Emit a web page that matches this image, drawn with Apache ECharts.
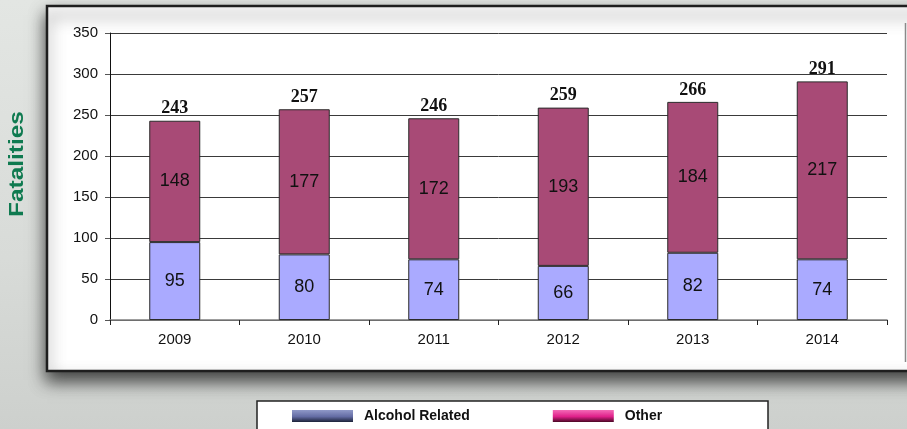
<!DOCTYPE html>
<html>
<head>
<meta charset="utf-8">
<script src="https://cdn.jsdelivr.net/npm/echarts@6/dist/echarts.min.js"></script>
<style>
  html, body { margin: 0; padding: 0; }
  #chart { width: 907px; height: 429px; }
</style>
</head>
<body>
<div id="chart"></div>
<script>
// Yearly fatalities, split into alcohol-related and other
const years = ['2009', '2010', '2011', '2012', '2013', '2014'];
const alcoholRelated = [95, 80, 74, 66, 82, 74];
const other = [148, 177, 172, 193, 184, 217];
const totals = [243, 257, 246, 259, 266, 291];
const yTicks = { min: 0, max: 350, interval: 50 };

const chart = echarts.init(document.getElementById('chart'), null, { renderer: 'canvas' });

const grad = (c1, c2, c3) => new echarts.graphic.LinearGradient(0, 0, 0, 1, [
  { offset: 0, color: c1 }, { offset: 0.55, color: c2 }, { offset: 1, color: c3 }
]);

chart.setOption({
  animation: false,
  backgroundColor: new echarts.graphic.LinearGradient(0, 0, 0, 1, [
    { offset: 0, color: '#e3e6e3' },
    { offset: 0.6, color: '#d8dbd8' },
    { offset: 1, color: '#cdd0cd' }
  ]),
  graphic: [
    {
      type: 'rect', z: -10, silent: true,
      shape: { x: 47, y: 6, width: 880, height: 365 },
      style: {
        fill: '#ffffff', stroke: '#1e1e1e', lineWidth: 2.5,
        shadowBlur: 16, shadowOffsetY: 9, shadowColor: 'rgba(0,0,0,0.7)'
      }
    },
    {
      type: 'line', z: -5, silent: true,
      shape: { x1: 905.5, y1: 23, x2: 905.5, y2: 362 },
      style: { stroke: '#8a8a8a', lineWidth: 1.5 }
    },
    {
      // axis title, slightly letter-stretched along its run
      type: 'text', silent: true,
      x: 17, y: 164, rotation: Math.PI / 2, scaleX: 1.22,
      style: {
        text: 'Fatalities', fill: '#0f7a50',
        font: 'bold 20px Arial, "Liberation Sans", sans-serif',
        align: 'center', verticalAlign: 'middle'
      }
    },
    {
      type: 'rect', z: -5, silent: true,
      shape: { x: 257, y: 401, width: 511, height: 40 },
      style: { fill: '#ffffff', stroke: '#222222', lineWidth: 1.5 }
    }
  ],
  legend: {
    left: 292, top: 409, padding: 0,
    itemWidth: 61, itemHeight: 12, itemGap: 83,
    icon: 'rect',
    textStyle: {
      color: '#111', fontWeight: 'bold', fontSize: 14,
      fontFamily: 'Arial, "Liberation Sans", sans-serif',
      padding: [0, 0, 0, 6]
    },
    data: [
      { name: 'Alcohol Related', itemStyle: { color: grad('#9099c8', '#646ca4', '#1c2238'), borderWidth: 0 } },
      { name: 'Other', itemStyle: { color: grad('#f46ab6', '#e0208a', '#4a0824'), borderWidth: 0 } }
    ]
  },
  grid: { left: 110, right: 20, top: 33, bottom: 109 },
  xAxis: {
    type: 'category',
    data: years,
    axisLine: { lineStyle: { color: '#808080', width: 1.5 } },
    axisTick: { show: true, length: 5, lineStyle: { color: '#222' } },
    axisLabel: {
      color: '#111', fontSize: 15, margin: 12,
      fontFamily: 'Arial, "Liberation Sans", sans-serif'
    }
  },
  yAxis: {
    type: 'value',
    min: yTicks.min, max: yTicks.max, interval: yTicks.interval,
    axisLine: { show: true, lineStyle: { color: '#111', width: 1 } },
    axisTick: { show: true, length: 5, lineStyle: { color: '#555' } },
    axisLabel: {
      color: '#111', fontSize: 15, margin: 12,
      fontFamily: 'Arial, "Liberation Sans", sans-serif'
    },
    splitLine: { lineStyle: { color: '#3a3a3a', width: 1 } }
  },
  series: [
    {
      name: 'Alcohol Related', type: 'bar', stack: 'f', barWidth: 51,
      data: alcoholRelated,
      itemStyle: { color: '#aaaaff', borderColor: '#2a2a2a', borderWidth: 1 },
      label: {
        show: true, position: 'inside', color: '#111', fontSize: 18,
        fontFamily: 'Arial, "Liberation Sans", sans-serif'
      }
    },
    {
      name: 'Other', type: 'bar', stack: 'f', barWidth: 51,
      data: other,
      itemStyle: { color: '#a84a76', borderColor: '#2a2a2a', borderWidth: 1 },
      label: {
        show: true, position: 'inside', color: '#111', fontSize: 18,
        fontFamily: 'Arial, "Liberation Sans", sans-serif'
      }
    },
    {
      name: 'Total', type: 'bar', barWidth: 51, barGap: '-100%', silent: true, z: 1,
      data: totals,
      itemStyle: { color: 'rgba(0,0,0,0)' },
      label: {
        show: true, position: 'top', distance: 3, color: '#111',
        fontSize: 18, fontWeight: 'bold',
        fontFamily: '"Liberation Serif", "Times New Roman", serif'
      }
    }
  ]
});
</script>
</body>
</html>
